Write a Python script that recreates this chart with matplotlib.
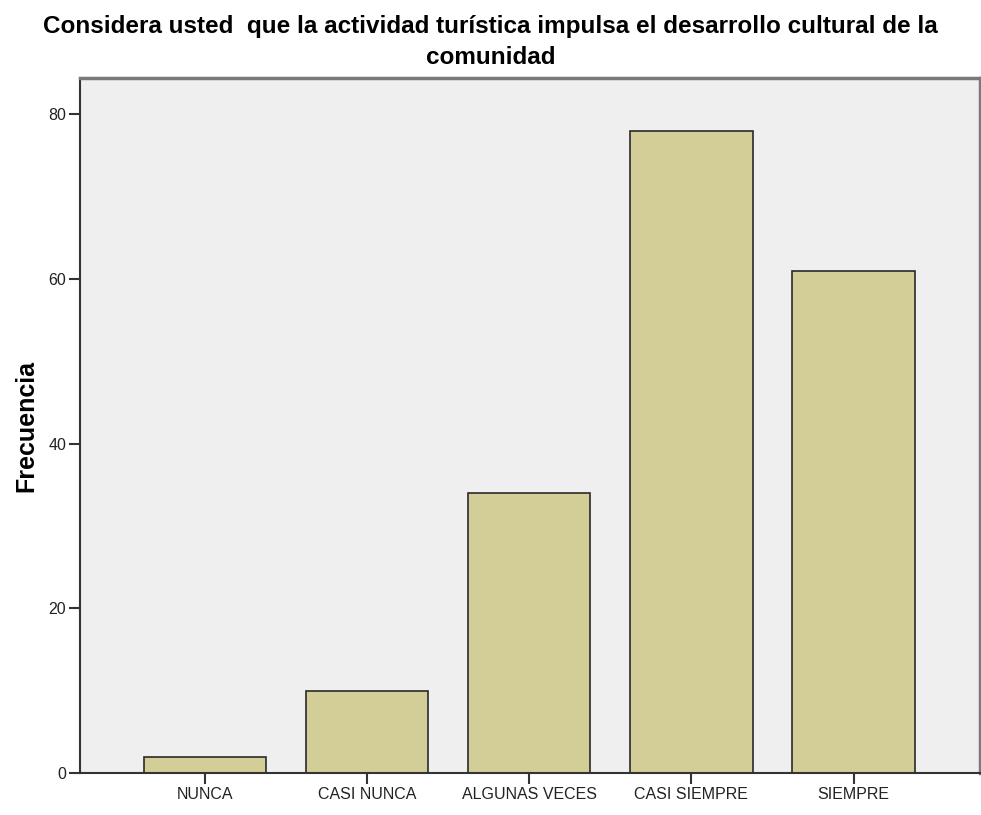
import matplotlib.pyplot as plt

categories = ['NUNCA', 'CASI NUNCA', 'ALGUNAS VECES', 'CASI SIEMPRE', 'SIEMPRE']
frecuencia = [2, 10, 34, 78, 61]
y_ticks = [0, 20, 40, 60, 80]

fig = plt.figure(figsize=(9.81, 8.15), dpi=100)
ax = fig.add_axes([0.0815, 0.0515, 0.9175, 0.8525])
ax.set_facecolor('#efefef')

x = range(len(categories))
ax.bar(x, frecuencia, width=0.755, color='#d3ce98', edgecolor='#2a2a2a', linewidth=1.2, zorder=2)

ax.set_xlim(-0.77, 4.78)
ax.set_ylim(0, 84.4)
ax.set_xticks(list(x))
ax.set_xticklabels(categories, fontfamily='Liberation Sans', fontsize=11.5, color='#222222')
ax.set_yticks(y_ticks)
ax.set_yticklabels([str(v) for v in y_ticks], fontfamily='Liberation Sans', fontsize=11.5, color='#222222')
ax.tick_params(axis='both', direction='out', length=8, width=1.5, color='#333333', pad=2)

for s in ['left', 'bottom']:
    ax.spines[s].set_color('#333333')
    ax.spines[s].set_linewidth(1.5)
for s in ['top', 'right']:
    ax.spines[s].set_color('#7a7a7a')
    ax.spines[s].set_linewidth(2.5)

ax.set_ylabel('Frecuencia', fontfamily='Liberation Sans', fontweight='bold', fontsize=18, labelpad=7)
fig.suptitle('Considera usted  que la actividad turística impulsa el desarrollo cultural de la\ncomunidad',
             fontfamily='Liberation Sans', fontweight='bold', fontsize=17.5, y=0.982, linespacing=1.45)

fig.savefig('out.png', dpi=100)
